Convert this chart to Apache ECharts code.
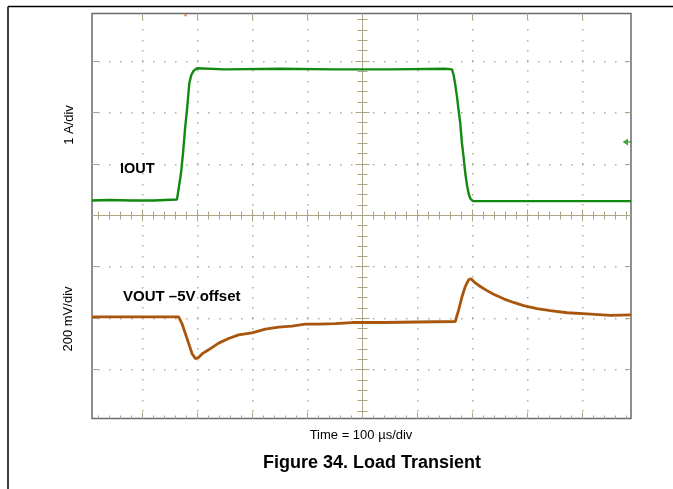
<!DOCTYPE html>
<html>
<head>
<meta charset="utf-8">
<title>Figure 34. Load Transient</title>
<script src="https://cdn.jsdelivr.net/npm/echarts@6/dist/echarts.min.js"></script>
</head>
<body style="margin:0;background:#fff">
<div id="container" style="width:673px;height:489px"></div>
<script>
// x = time in µs (100 µs/div), y = screen divisions from the centre line
var ioutTime = [-492, -460, -420, -380, -337.5, -330.2, -326.5, -322.4, -319.3, -315.1, -311.5, -307.3, -301.1,
    -250, -150, -50, 50, 150, 162.5, 165.5, 168.5, 171.6, 174.5, 177.6, 180.7, 183.6, 186.7, 189.8, 192.7, 195.8,
    200.7, 250, 350, 488];
var ioutDiv = [0.29, 0.30, 0.29, 0.29, 0.31, 0.82, 1.21, 1.73, 2.05, 2.57, 2.73, 2.81, 2.86,
    2.84, 2.85, 2.84, 2.84, 2.85, 2.84, 2.73, 2.54, 2.31, 2.05, 1.79, 1.40, 1.14, 0.82, 0.59, 0.43, 0.33,
    0.28, 0.28, 0.28, 0.28];

var voutTime = [-492, -420, -380, -334.5, -328.4, -322.4, -316.4, -310.2, -304.2, -298.2, -292, -280, -261.8,
    -243.6, -225.5, -201.1, -176.9, -152.7, -128.4, -104.2, -80, -49.6, -19.3, 41.3, 100, 168.5, 174.5, 180.7,
    186.7, 192.7, 197.1, 204.9, 214, 226.2, 238.2, 256.4, 274.5, 292.7, 317.1, 341.3, 371.6, 408, 450.4, 488];
var voutDiv = [-1.97, -1.97, -1.97, -1.97, -2.10, -2.29, -2.48, -2.68, -2.78, -2.76, -2.69, -2.61, -2.48,
    -2.39, -2.32, -2.28, -2.21, -2.17, -2.15, -2.11, -2.11, -2.10, -2.08, -2.08, -2.07, -2.06, -1.84, -1.58,
    -1.38, -1.25, -1.23, -1.31, -1.38, -1.46, -1.53, -1.62, -1.69, -1.75, -1.81, -1.85, -1.89, -1.91, -1.94, -1.93];

// graticule
var xDivs = [-400, -300, -200, -100, 100, 200, 300, 400];
var yDivs = [-3, -2, -1, 1, 2, 3];
var xMinorStep = 20;
var yMinorStep = 0.2;

var groundMarker = [[481, 1.43]];
var triggerMarker = [[-322, 3.89]];

var gratColor = '#aca588';
var dotColor = '#b3ad95';

function zip(a, b) {
    return a.map(function (v, i) { return [v, b[i]]; });
}

function crisp(v) { return Math.round(v - 0.5) + 0.5; }

function drawGraticule(params, api) {
    var cs = params.coordSys;
    var x0 = cs.x, x1 = cs.x + cs.width, y0 = cs.y, y1 = cs.y + cs.height;
    var o = api.coord([0, 0]);
    var ox = crisp(o[0]), oy = crisp(o[1]);
    var kids = [];
    function line(ax, ay, bx, by) {
        kids.push({type: 'line', shape: {x1: ax, y1: ay, x2: bx, y2: by},
            style: {stroke: gratColor, lineWidth: 1}});
    }
    function dot(x, y) {
        kids.push({type: 'rect', shape: {x: Math.round(x) - 1, y: Math.round(y) - 1, width: 1.5, height: 1.5},
            style: {fill: dotColor}});
    }
    var xs = [], ys = [];
    for (var i = -24; i <= 24; i++) xs.push(i * xMinorStep);
    for (var j = -19; j <= 19; j++) ys.push(+(j * yMinorStep).toFixed(1));

    xDivs.forEach(function (t) {
        var px = crisp(api.coord([t, 0])[0]);
        ys.forEach(function (d) { dot(px, api.coord([0, d])[1]); });
        line(px, y0, px, y0 + 6);
        line(px, y1, px, y1 - 6);
    });
    yDivs.forEach(function (d) {
        var py = crisp(api.coord([0, d])[1]);
        xs.forEach(function (t) { dot(api.coord([t, 0])[0], py); });
        line(x0, py, x0 + 6, py);
        line(x1, py, x1 - 6, py);
    });
    // centre cross with minor ticks
    line(x0, oy, x1, oy);
    line(ox, y0, ox, y1);
    xs.forEach(function (t) {
        var px = crisp(api.coord([t, 0])[0]);
        var h = (t % 100 === 0) ? 6 : 4;
        line(px, oy - h, px, oy + h);
        line(px, y1, px, y1 - 3);
    });
    ys.forEach(function (d) {
        var py = crisp(api.coord([0, d])[1]);
        var h = (Math.abs(d - Math.round(d)) < 1e-6) ? 7 : 5;
        line(ox - h, py, ox + h, py);
    });
    return {type: 'group', children: kids};
}

var chart = echarts.init(document.getElementById('container'), null, {renderer: 'canvas'});

var font = '"Liberation Sans", Arial, sans-serif';

chart.setOption({
    animation: false,
    backgroundColor: '#fff',
    grid: {
        left: 92, top: 13.5, width: 539, height: 405,
        show: true, borderColor: '#6a6a6a', borderWidth: 1.5, backgroundColor: '#fff'
    },
    xAxis: {
        type: 'value', min: -492, max: 488,
        axisLine: {show: false}, axisTick: {show: false}, axisLabel: {show: false}, splitLine: {show: false}
    },
    yAxis: {
        type: 'value', min: -3.945, max: 3.925,
        axisLine: {show: false}, axisTick: {show: false}, axisLabel: {show: false}, splitLine: {show: false}
    },
    series: [
        {
            type: 'custom', silent: true, z: 1,
            renderItem: drawGraticule,
            data: [[0, 0]]
        },
        {
            name: 'IOUT', type: 'line', z: 3, showSymbol: false, silent: true,
            lineStyle: {color: '#128a12', width: 2.4},
            data: zip(ioutTime, ioutDiv)
        },
        {
            name: 'VOUT', type: 'line', z: 3, showSymbol: false, silent: true,
            lineStyle: {color: '#a8560e', width: 2.8},
            data: zip(voutTime, voutDiv)
        },
        {
            type: 'scatter', z: 4, silent: true,
            symbol: 'path://M0,5 L6,0 L6,4 L10,4 L10,6 L6,6 L6,10 Z',
            symbolSize: [9, 7],
            itemStyle: {color: '#128a12'},
            data: groundMarker
        },
        {
            type: 'scatter', z: 4, silent: true,
            symbol: 'circle', symbolSize: 2.5,
            itemStyle: {color: '#e06a3a'},
            data: triggerMarker
        }
    ],
    graphic: [
        {type: 'line', shape: {x1: 8, y1: 6.5, x2: 673, y2: 6.5}, style: {stroke: '#000', lineWidth: 1.5}},
        {type: 'line', shape: {x1: 8, y1: 6.5, x2: 8, y2: 489}, style: {stroke: '#000', lineWidth: 1.5}},
        {type: 'text', x: 69, y: 125, rotation: Math.PI / 2,
            style: {text: '1 A/div', font: '13px ' + font, fill: '#000', align: 'center', verticalAlign: 'middle'}},
        {type: 'text', x: 68, y: 319, rotation: Math.PI / 2,
            style: {text: '200 mV/div', font: '13px ' + font, fill: '#000', align: 'center', verticalAlign: 'middle'}},
        {type: 'text', x: 120, y: 169, z: 5,
            style: {text: 'IOUT', font: 'bold 14.5px ' + font, fill: '#000', align: 'left', verticalAlign: 'middle'}},
        {type: 'text', x: 123, y: 297, z: 5,
            style: {text: 'VOUT \u20135V offset', font: 'bold 15px ' + font, fill: '#000', align: 'left', verticalAlign: 'middle'}},
        {type: 'text', x: 361, y: 435,
            style: {text: 'Time = 100 \u00b5s/div', font: '13px ' + font, fill: '#000', align: 'center', verticalAlign: 'middle'}},
        {type: 'text', x: 372, y: 463,
            style: {text: 'Figure 34. Load Transient', font: 'bold 18px ' + font, fill: '#000', align: 'center', verticalAlign: 'middle'}}
    ]
});

window.addEventListener('resize', chart.resize);
</script>
</body>
</html>
